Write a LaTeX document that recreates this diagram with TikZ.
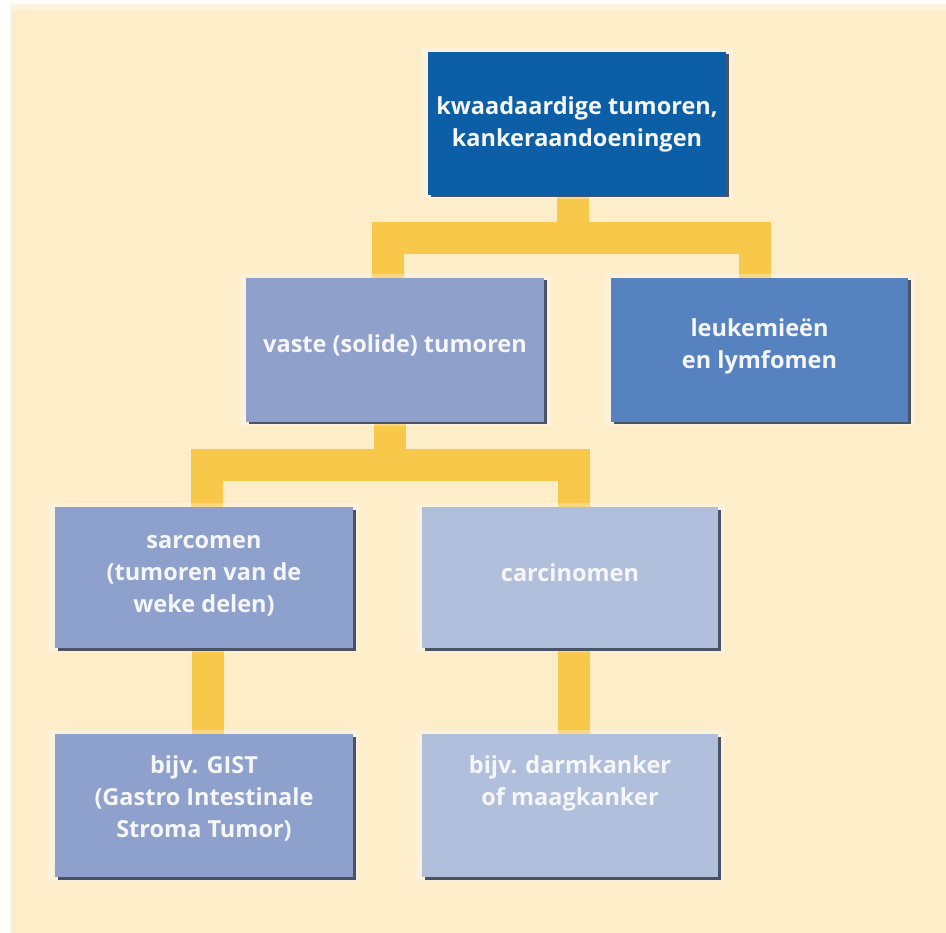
\documentclass[tikz,border=0pt]{standalone}
\usepackage{fontspec}
\setmainfont{Open Sans}
\usetikzlibrary{shadows}
\definecolor{cream}{HTML}{FDEDC9}
\definecolor{creamtop}{HTML}{FEF3DC}
\definecolor{cTop}{HTML}{0C5EA6}
\definecolor{cVaste}{HTML}{8FA0CB}
\definecolor{cLeuk}{HTML}{5682C0}
\definecolor{cSarc}{HTML}{8DA1CC}
\definecolor{cCarc}{HTML}{B0BFDC}
\definecolor{bxshadow}{HTML}{4A5366}
\definecolor{ylw}{HTML}{F8C84B}
\definecolor{ylwshadow}{HTML}{B8913A}
\definecolor{txtc}{HTML}{F6F6F8}
\pgfdeclarelayer{bgl}
\pgfdeclarelayer{connl}
\pgfsetlayers{bgl,connl,main}
\newcommand\bxt[3]{\parbox[c][#1pt][t]{296pt}{\centering\rule{0pt}{#2pt}#3}}
\tikzset{
  box/.style={rectangle, inner sep=0pt, text=txtc,
    font=\bfseries\fontsize{23.5}{32}\selectfont,
    general shadow={shadow scale=1.05, fill=white, opacity=.3},
    drop shadow={shadow xshift=2.5pt, shadow yshift=-2.5pt, fill=bxshadow, opacity=1}},
  connshadow/.style={draw=ylwshadow, line width=32pt, line join=miter, line cap=butt},
  conn/.style={draw=ylw, line width=32pt, line join=miter, line cap=butt}
}
\begin{document}
\begin{tikzpicture}[x=1pt,y=-1pt]
\useasboundingbox (0,0) rectangle (946,933);
\begin{pgfonlayer}{bgl}
\fill[white] (0,0) rectangle (946,933);
\fill[cream] (11,4) rectangle (946,933);
\fill[creamtop] (11,4) rectangle (946,10);
\end{pgfonlayer}

\node[box, fill=cTop, minimum width=298pt, minimum height=143pt] (top) at (577,123.5)
  {\bxt{143}{63}{kwaadaardige tumoren,\\kankeraandoeningen}};
\node[box, fill=cVaste, minimum width=298pt, minimum height=144pt] (vaste) at (395,350)
  {\bxt{144}{75}{vaste (solide) tumoren}};
\node[box, fill=cLeuk, minimum width=297pt, minimum height=144pt] (leuk) at (759.5,350)
  {\bxt{144}{59}{leukemieën\\en lymfomen}};
\node[box, fill=cSarc, minimum width=298pt, minimum height=141pt] (sarc) at (204,577.5)
  {\bxt{141}{41}{sarcomen\\(tumoren van de\\weke delen)}};
\node[box, fill=cCarc, minimum width=296pt, minimum height=141pt] (carc) at (570,577.5)
  {\bxt{141}{74}{carcinomen}};
\node[box, fill=cSarc, minimum width=298pt, minimum height=143pt] (gist) at (204,805.5)
  {\bxt{143}{39}{bijv. GIST\\(Gastro Intestinale\\Stroma Tumor)}};
\node[box, fill=cCarc, minimum width=296pt, minimum height=143pt] (darm) at (570,805.5)
  {\bxt{143}{39}{bijv. darmkanker\\of maagkanker}};

\coordinate (b1) at (573,238);
\coordinate (b2) at (390,465);

\begin{pgfonlayer}{connl}
\begin{scope}[shift={(2,2)}]
\draw[connshadow] ([xshift=-7pt]vaste.north) |- (b1) -| ([xshift=-4.5pt]leuk.north);
\draw[connshadow] (top.south -| b1) -- (b1);
\draw[connshadow] ([xshift=2.5pt]sarc.north) |- (b2) -| ([xshift=3.5pt]carc.north);
\draw[connshadow] (vaste.south -| b2) -- (b2);
\draw[connshadow] ([xshift=3.5pt]sarc.south) -- ([xshift=3.5pt]gist.north);
\draw[connshadow] ([xshift=3.5pt]carc.south) -- ([xshift=3.5pt]darm.north);
\end{scope}
\draw[conn] ([xshift=-7pt]vaste.north) |- (b1) -| ([xshift=-4.5pt]leuk.north);
\draw[conn] (top.south -| b1) -- (b1);
\draw[conn] ([xshift=2.5pt]sarc.north) |- (b2) -| ([xshift=3.5pt]carc.north);
\draw[conn] (vaste.south -| b2) -- (b2);
\draw[conn] ([xshift=3.5pt]sarc.south) -- ([xshift=3.5pt]gist.north);
\draw[conn] ([xshift=3.5pt]carc.south) -- ([xshift=3.5pt]darm.north);
\end{pgfonlayer}
\end{tikzpicture}
\end{document}
